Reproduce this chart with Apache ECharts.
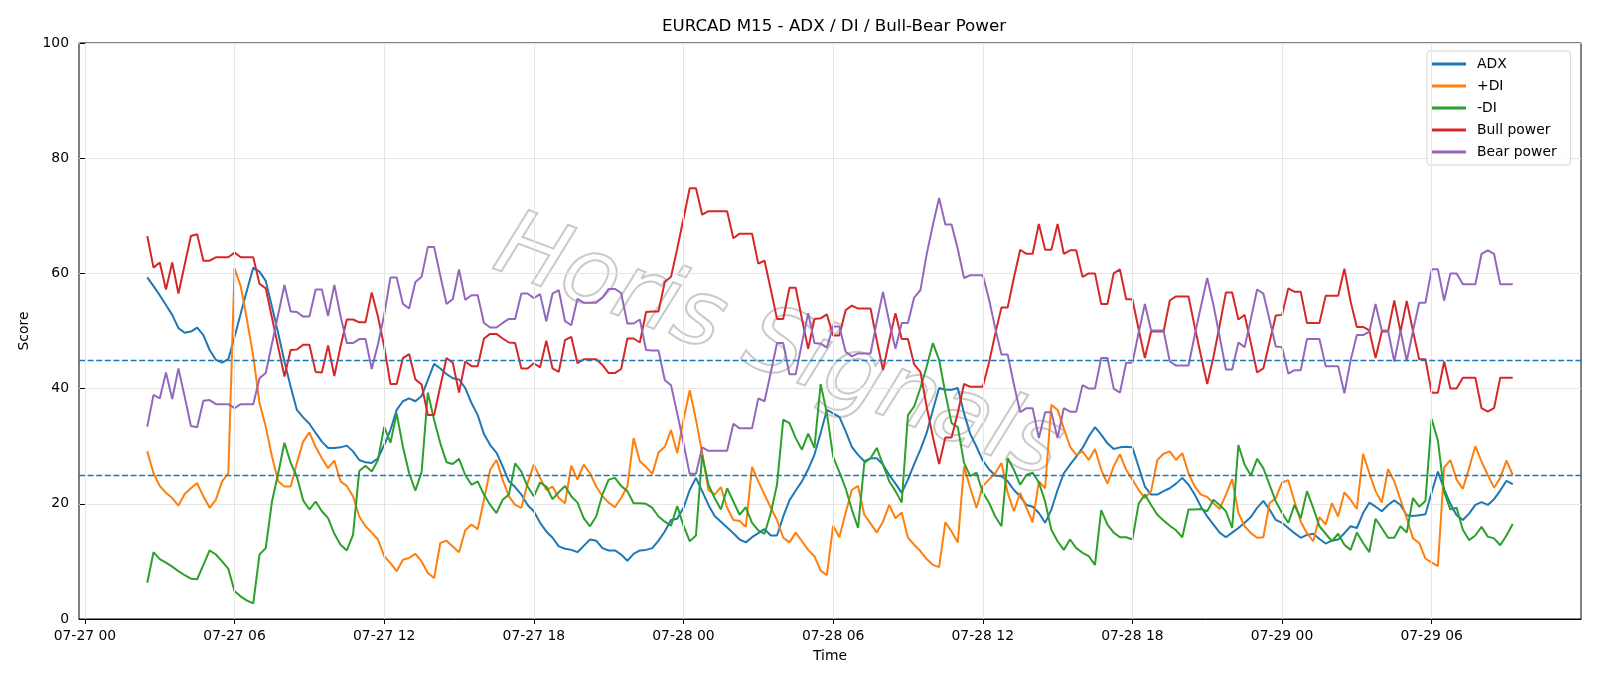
<!DOCTYPE html>
<html>
<head>
<meta charset="utf-8">
<title>EURCAD M15 - ADX / DI / Bull-Bear Power</title>
<script src="https://cdn.jsdelivr.net/npm/echarts@6/dist/echarts.min.js"></script>
<style>
  html, body { margin: 0; padding: 0; background: #fff; }
  #container { width: 1600px; height: 686px; }
</style>
</head>
<body>
<div id="container"></div>
<script>
// 15 minute bars, first one at 07-27 02:30 (hours counted from 07-27 00:00)
var startHour = 2.5;
var stepHours = 0.25;

var adx = [
  59.3, 57.8, 56.2, 54.5, 52.8, 50.5, 49.7, 49.9, 50.6, 49.3, 46.7, 45.0, 44.5, 45.1, 49.0, 53.1, 57.1, 61.0, 60.3, 58.7, 54.2, 49.6,
  44.7, 40.3, 36.3, 35.0, 33.9, 32.3, 30.8, 29.7, 29.7, 29.8, 30.1, 29.1, 27.6, 27.2, 27.1, 27.9, 30.2, 32.8, 36.3, 37.8, 38.3, 37.8, 38.7,
  41.5, 44.3, 43.5, 42.5, 41.8, 41.6, 40.1, 37.5, 35.4, 32.1, 30.2, 28.9, 26.5, 23.9, 22.9, 21.6, 19.8, 18.7, 16.7, 15.2, 14.1, 12.6,
  12.2, 12.0, 11.6, 12.7, 13.8, 13.6, 12.3, 11.9, 11.9, 11.2, 10.1, 11.3, 11.9, 12.0, 12.3, 13.6, 15.2, 17.2, 17.4, 19.3, 22.4, 24.5, 22.2,
  19.8, 17.9, 16.9, 15.9, 14.9, 13.8, 13.3, 14.2, 14.9, 15.6, 14.5, 14.5, 17.8, 20.6, 22.3, 23.9, 26.0, 28.5, 32.3, 36.3, 35.7, 35.1,
  32.6, 29.9, 28.5, 27.4, 27.9, 27.9, 26.8, 25.0, 23.5, 21.9, 24.2, 26.9, 29.4, 32.3, 36.3, 40.1, 39.8, 39.8, 40.1, 35.7, 32.1, 29.9, 27.5,
  26.0, 24.9, 24.8, 23.9, 22.4, 21.3, 19.8, 19.5, 18.4, 16.7, 19.0, 22.4, 25.3, 26.8, 28.2, 29.7, 31.7, 33.3, 32.0, 30.5, 29.5, 29.8,
  29.9, 29.8, 26.4, 23.0, 21.6, 21.6, 22.2, 22.7, 23.5, 24.5, 23.3, 21.6, 19.5, 17.8, 16.4, 15.0, 14.2, 15.0, 15.8, 16.7, 17.7, 19.3, 20.5,
  19.0, 17.2, 16.7, 15.8, 14.9, 14.1, 14.6, 14.8, 13.9, 13.1, 13.6, 13.8, 14.9, 16.1, 15.8, 18.4, 20.2, 19.5, 18.7, 19.8, 20.6, 19.8,
  18.0, 17.9, 18.0, 18.2, 22.0, 25.6, 22.5, 20.0, 18.0, 17.2, 18.3, 19.8, 20.3, 19.8, 20.8, 22.3, 24.0, 23.4
];

var plusDi = [
  29.1, 25.3, 23.1, 21.9, 21.0, 19.7, 21.7, 22.7, 23.6, 21.3, 19.3, 20.7, 23.9, 25.3, 60.9, 57.7, 51.9, 45.6, 37.5, 33.4, 28.2, 23.9,
  23.0, 23.0, 27.1, 30.8, 32.4, 29.9, 27.9, 26.2, 27.5, 23.9, 23.1, 21.3, 17.8, 16.1, 15.0, 13.8, 10.9, 9.7, 8.3, 10.3, 10.6, 11.3, 10.0,
  8.0, 7.1, 13.2, 13.6, 12.6, 11.6, 15.4, 16.4, 15.6, 20.7, 25.9, 27.6, 24.2, 21.3, 19.8, 19.3, 23.6, 26.8, 24.5, 22.4, 23.0, 21.0,
  20.1, 26.6, 24.2, 26.8, 25.3, 23.0, 21.3, 20.2, 19.4, 21.0, 23.0, 31.4, 27.4, 26.4, 25.2, 28.9, 29.9, 32.8, 28.8, 34.6, 39.7, 34.6, 28.8,
  22.4, 21.6, 22.9, 19.3, 17.2, 17.0, 16.0, 26.4, 23.9, 21.6, 19.3, 17.2, 14.1, 13.3, 15.0, 13.5, 12.0, 10.9, 8.4, 7.6, 16.2, 14.2,
  18.4, 22.4, 23.1, 18.1, 16.6, 15.0, 16.9, 19.8, 17.5, 18.5, 14.1, 12.9, 11.8, 10.4, 9.4, 9.0, 16.8, 15.2, 13.3, 26.5, 22.7, 19.3, 23.1,
  24.2, 25.3, 27.1, 21.9, 18.7, 21.9, 19.3, 16.8, 23.9, 22.7, 37.2, 36.3, 33.1, 29.9, 28.5, 29.1, 27.6, 29.5, 25.9, 23.5, 26.5, 28.6,
  25.9, 24.2, 22.4, 21.0, 22.2, 27.6, 28.7, 29.1, 27.6, 28.8, 25.3, 23.0, 21.6, 21.2, 20.1, 19.1, 21.6, 24.3, 18.4, 16.1, 14.9, 14.1, 14.2,
  20.1, 21.0, 23.7, 24.1, 20.4, 16.9, 14.9, 13.5, 17.7, 16.4, 20.1, 17.8, 22.0, 20.7, 19.1, 28.7, 25.3, 22.2, 20.2, 26.0, 23.9, 20.7,
  17.5, 14.0, 13.2, 10.5, 9.8, 9.2, 26.3, 27.6, 24.2, 22.6, 26.2, 30.0, 27.3, 25.0, 22.8, 24.5, 27.5, 25.0
];

var minusDi = [
  6.3, 11.6, 10.4, 9.8, 9.1, 8.3, 7.6, 7.0, 6.9, 9.4, 11.9, 11.2, 10.0, 8.7, 4.8, 3.9, 3.2, 2.7, 11.2, 12.3, 20.4, 25.3,
  30.6, 27.1, 24.7, 20.6, 19.0, 20.4, 18.7, 17.5, 14.8, 12.9, 11.9, 14.6, 25.7, 26.6, 25.6, 27.6, 33.4, 30.6, 35.7, 29.9, 25.3, 22.3, 25.5,
  39.3, 34.6, 30.5, 27.2, 26.9, 27.8, 25.0, 23.3, 23.9, 21.6, 19.8, 18.4, 20.7, 21.6, 27.0, 25.6, 23.0, 21.3, 23.7, 23.0, 20.8, 22.0,
  23.1, 21.3, 20.2, 17.5, 16.1, 17.8, 21.6, 24.2, 24.5, 23.1, 22.2, 20.1, 20.1, 20.0, 19.3, 17.8, 16.9, 16.2, 19.6, 16.2, 13.5, 14.5, 28.5,
  23.3, 21.0, 19.0, 22.7, 20.4, 18.1, 19.4, 16.7, 15.4, 14.8, 18.4, 23.3, 34.6, 34.0, 31.4, 29.4, 32.2, 29.7, 40.8, 35.7, 28.2, 25.5,
  22.7, 19.0, 15.8, 27.1, 27.9, 29.7, 26.8, 23.9, 22.2, 20.2, 35.4, 36.9, 40.1, 43.8, 47.9, 45.0, 39.2, 34.0, 33.3, 27.1, 24.8, 25.4, 22.0,
  20.2, 17.8, 16.1, 27.9, 25.9, 23.3, 25.0, 25.4, 23.7, 20.4, 15.5, 13.5, 12.0, 13.8, 12.3, 11.5, 10.9, 9.4, 18.9, 16.4, 15.0, 14.2,
  14.2, 13.8, 20.0, 21.6, 19.8, 18.1, 17.1, 16.2, 15.4, 14.2, 19.0, 19.0, 19.1, 18.7, 20.7, 19.8, 18.7, 15.8, 30.2, 26.8, 24.9, 27.8, 26.2,
  23.3, 20.4, 18.4, 16.7, 19.8, 17.5, 22.2, 19.3, 16.1, 14.8, 13.5, 14.8, 12.9, 12.0, 15.0, 13.2, 11.6, 17.4, 15.8, 14.1, 14.1, 16.1,
  15.0, 21.0, 19.5, 20.5, 34.7, 31.0, 22.0, 19.0, 19.3, 15.5, 13.7, 14.5, 16.0, 14.3, 14.0, 12.8, 14.5, 16.5
];

var bullPower = [
  66.5, 61.0, 61.9, 57.2, 61.9, 56.5, 61.5, 66.5, 66.8, 62.2, 62.2, 62.8, 62.8, 62.8, 63.6, 62.8, 62.8, 62.8, 58.2, 57.4, 52.3, 47.2,
  42.1, 46.7, 46.8, 47.6, 47.6, 42.9, 42.8, 47.5, 42.2, 47.3, 52.0, 52.0, 51.5, 51.5, 56.7, 52.5, 47.3, 40.8, 40.8, 45.3, 46.0, 41.6, 40.7,
  35.4, 35.4, 40.4, 45.3, 44.5, 39.3, 44.7, 43.9, 43.9, 48.7, 49.5, 49.5, 48.7, 48.0, 47.9, 43.5, 43.5, 44.4, 43.7, 48.3, 43.5, 42.9,
  48.4, 49.0, 44.4, 45.1, 45.1, 45.1, 44.1, 42.7, 42.7, 43.4, 48.7, 48.7, 48.0, 53.3, 53.4, 53.4, 58.5, 59.4, 64.3, 69.5, 74.8, 74.8, 70.2,
  70.8, 70.8, 70.8, 70.8, 66.1, 66.9, 66.9, 66.9, 61.7, 62.2, 57.2, 52.1, 52.1, 57.5, 57.5, 52.1, 46.9, 52.1, 52.2, 52.9, 49.2, 49.2,
  53.6, 54.4, 53.9, 53.9, 53.9, 48.4, 43.2, 48.4, 53.1, 48.6, 48.6, 44.2, 42.9, 36.9, 31.6, 26.9, 31.5, 31.5, 35.8, 40.8, 40.3, 40.3, 40.3,
  44.5, 49.5, 54.1, 54.1, 59.3, 64.1, 63.4, 63.4, 68.6, 64.1, 64.1, 68.6, 63.4, 64.0, 64.0, 59.4, 60.0, 60.0, 54.7, 54.7, 60.0, 60.7,
  55.5, 55.5, 50.3, 45.3, 49.9, 49.9, 49.9, 55.3, 56.0, 56.0, 56.0, 50.7, 45.7, 40.8, 45.5, 51.0, 56.7, 56.7, 52.0, 52.8, 47.9, 42.8, 43.5,
  48.1, 52.7, 52.8, 57.4, 56.8, 56.8, 51.4, 51.4, 51.4, 56.1, 56.1, 56.1, 60.8, 55.1, 50.7, 50.7, 50.1, 45.3, 49.9, 49.9, 55.3, 49.9,
  55.2, 50.0, 45.1, 45.1, 39.3, 39.3, 44.7, 40.0, 40.0, 41.9, 41.9, 41.9, 36.6, 36.0, 36.6, 41.9, 41.9, 41.9
];

var bearPower = [
  33.4, 38.9, 38.3, 42.8, 38.2, 43.5, 38.6, 33.5, 33.3, 37.9, 38.0, 37.3, 37.3, 37.3, 36.6, 37.3, 37.3, 37.3, 41.8, 42.7, 47.8, 52.9,
  58.0, 53.4, 53.3, 52.5, 52.5, 57.2, 57.2, 52.6, 58.0, 52.6, 47.9, 47.9, 48.6, 48.6, 43.4, 47.7, 52.8, 59.3, 59.3, 54.7, 53.9, 58.5, 59.4,
  64.6, 64.6, 59.6, 54.7, 55.5, 60.7, 55.4, 56.2, 56.2, 51.4, 50.6, 50.6, 51.4, 52.1, 52.1, 56.5, 56.5, 55.7, 56.4, 51.7, 56.5, 57.1,
  51.7, 51.0, 55.6, 54.9, 54.9, 54.9, 55.8, 57.3, 57.3, 56.6, 51.3, 51.3, 52.0, 46.7, 46.6, 46.6, 41.5, 40.6, 35.7, 30.5, 25.2, 25.2, 29.8,
  29.2, 29.2, 29.2, 29.2, 33.9, 33.1, 33.1, 33.1, 38.3, 37.8, 42.8, 47.9, 47.9, 42.5, 42.5, 47.9, 53.1, 47.9, 47.8, 47.1, 50.8, 50.8,
  46.4, 45.6, 46.1, 46.1, 46.1, 51.6, 56.8, 51.6, 46.9, 51.4, 51.4, 55.8, 57.1, 63.3, 68.4, 73.1, 68.5, 68.5, 64.2, 59.2, 59.7, 59.7, 59.7,
  55.5, 50.5, 45.9, 45.9, 40.7, 35.9, 36.6, 36.6, 31.4, 35.9, 35.9, 31.4, 36.6, 36.0, 36.0, 40.6, 40.0, 40.0, 45.3, 45.3, 40.0, 39.3,
  44.5, 44.5, 49.7, 54.7, 50.1, 50.1, 50.1, 44.7, 44.0, 44.0, 44.0, 49.3, 54.3, 59.2, 54.5, 49.0, 43.3, 43.3, 48.0, 47.2, 52.1, 57.2, 56.5,
  51.9, 47.3, 47.2, 42.6, 43.2, 43.2, 48.6, 48.6, 48.6, 43.9, 43.9, 43.9, 39.2, 44.9, 49.3, 49.3, 49.9, 54.7, 50.1, 50.1, 44.7, 50.1,
  44.8, 50.0, 54.9, 54.9, 60.7, 60.7, 55.3, 60.0, 60.0, 58.1, 58.1, 58.1, 63.4, 64.0, 63.4, 58.1, 58.1, 58.1
];

var levels = [25, 45];
var tickHours = [0, 6, 12, 18, 24, 30, 36, 42, 48, 54];
var watermarkText = "Horis Signals";

var hours = adx.map(function (v, i) { return startHour + i * stepHours; });

function pairs(values) {
  return values.map(function (v, i) { return [hours[i], v]; });
}

function pad(n) { return n < 10 ? "0" + n : "" + n; }

function timeLabel(h) {
  var day = 27 + Math.floor(h / 24);
  return "07-" + day + " " + pad(h % 24);
}

var dom = document.getElementById("container");
var myChart = echarts.init(dom, null, { renderer: "canvas" });

var font = "DejaVu Sans";

var lineSeries = function (name, values, color) {
  return {
    name: name,
    type: "line",
    data: pairs(values),
    showSymbol: false,
    symbol: "none",
    animation: false,
    z: 3,
    lineStyle: { color: color, width: 2 },
    itemStyle: { color: color }
  };
};

var option = {
  backgroundColor: "#ffffff",
  animation: false,
  textStyle: { fontFamily: font },
  title: {
    text: "EURCAD M15 - ADX / DI / Bull-Bear Power",
    left: 829,
    top: 13,
    textAlign: "center",
    textStyle: { fontFamily: font, fontSize: 16.7, fontWeight: "normal", color: "#000" }
  },
  grid: {
    left: 79,
    top: 43,
    width: 1502,
    height: 576,
    show: true,
    borderColor: "#000",
    borderWidth: 1,
    backgroundColor: "transparent"
  },
  // faint outlined watermark across the plot
  graphic: [{
    type: "text",
    x: 778,
    y: 350,
    rotation: -0.36,
    z: 0,
    silent: true,
    style: {
      text: watermarkText,
      font: "italic 92px 'DejaVu Sans'",
      fill: "rgba(255,255,255,0)",
      stroke: "#cacaca",
      lineWidth: 2,
      align: "center",
      verticalAlign: "middle"
    }
  }],
  legend: {
    orient: "vertical",
    left: 1427,
    top: 51,
    padding: [5, 14, 5, 5],
    itemWidth: 34,
    itemHeight: 3,
    itemGap: 6,
    itemStyle: { borderWidth: 0 },
    icon: "rect",
    borderColor: "#d4d4d4",
    borderWidth: 1,
    borderRadius: 3,
    backgroundColor: "rgba(255,255,255,0.8)",
    textStyle: { fontFamily: font, fontSize: 13.9, color: "#000", lineHeight: 16, padding: [0, 0, 0, 6] },
    data: ["ADX", "+DI", "-DI", "Bull power", "Bear power"]
  },
  xAxis: {
    type: "value",
    min: -0.2375,
    max: 59.9875,
    name: "Time",
    nameLocation: "middle",
    nameGap: 30,
    nameTextStyle: { fontFamily: font, fontSize: 13.9, color: "#000" },
    axisLine: { show: true, onZero: false, lineStyle: { color: "#000", width: 1 } },
    axisTick: { show: true, length: 5, customValues: tickHours, lineStyle: { color: "#000", width: 1 } },
    axisLabel: {
      customValues: tickHours,
      margin: 10,
      fontFamily: font,
      fontSize: 13.9,
      color: "#000",
      formatter: function (v) { return timeLabel(v); }
    },
    splitLine: { show: false }
  },
  yAxis: {
    type: "value",
    min: 0,
    max: 100,
    interval: 20,
    name: "Score",
    nameLocation: "middle",
    nameRotate: 90,
    nameGap: 45,
    nameTextStyle: { fontFamily: font, fontSize: 13.9, color: "#000" },
    axisLine: { show: true, lineStyle: { color: "#000", width: 1 } },
    axisTick: { show: true, length: 5, lineStyle: { color: "#000", width: 1 } },
    axisLabel: { margin: 10, fontFamily: font, fontSize: 13.9, color: "#000" },
    splitLine: { show: true, lineStyle: { color: "#e6e6e6", width: 1 } }
  },
  series: [
    {
      // vertical grid lines at the labelled times
      name: "xgrid",
      type: "line",
      data: [],
      z: 1,
      silent: true,
      markLine: {
        silent: true,
        symbol: "none",
        animation: false,
        label: { show: false },
        lineStyle: { color: "#e6e6e6", width: 1, type: "solid" },
        data: tickHours.map(function (h) { return { xAxis: h }; })
      }
    },
    lineSeries("ADX", adx, "#1f77b4"),
    lineSeries("+DI", plusDi, "#ff7f0e"),
    lineSeries("-DI", minusDi, "#2ca02c"),
    lineSeries("Bull power", bullPower, "#d62728"),
    lineSeries("Bear power", bearPower, "#9467bd"),
    {
      name: "levels",
      type: "line",
      data: [],
      z: 4,
      silent: true,
      markLine: {
        silent: true,
        symbol: "none",
        animation: false,
        label: { show: false },
        lineStyle: { color: "#1f77b4", width: 1.3, type: [6, 2.6] },
        data: levels.map(function (v) { return { yAxis: v }; })
      }
    }
  ]
};

myChart.setOption(option);
</script>
</body>
</html>
